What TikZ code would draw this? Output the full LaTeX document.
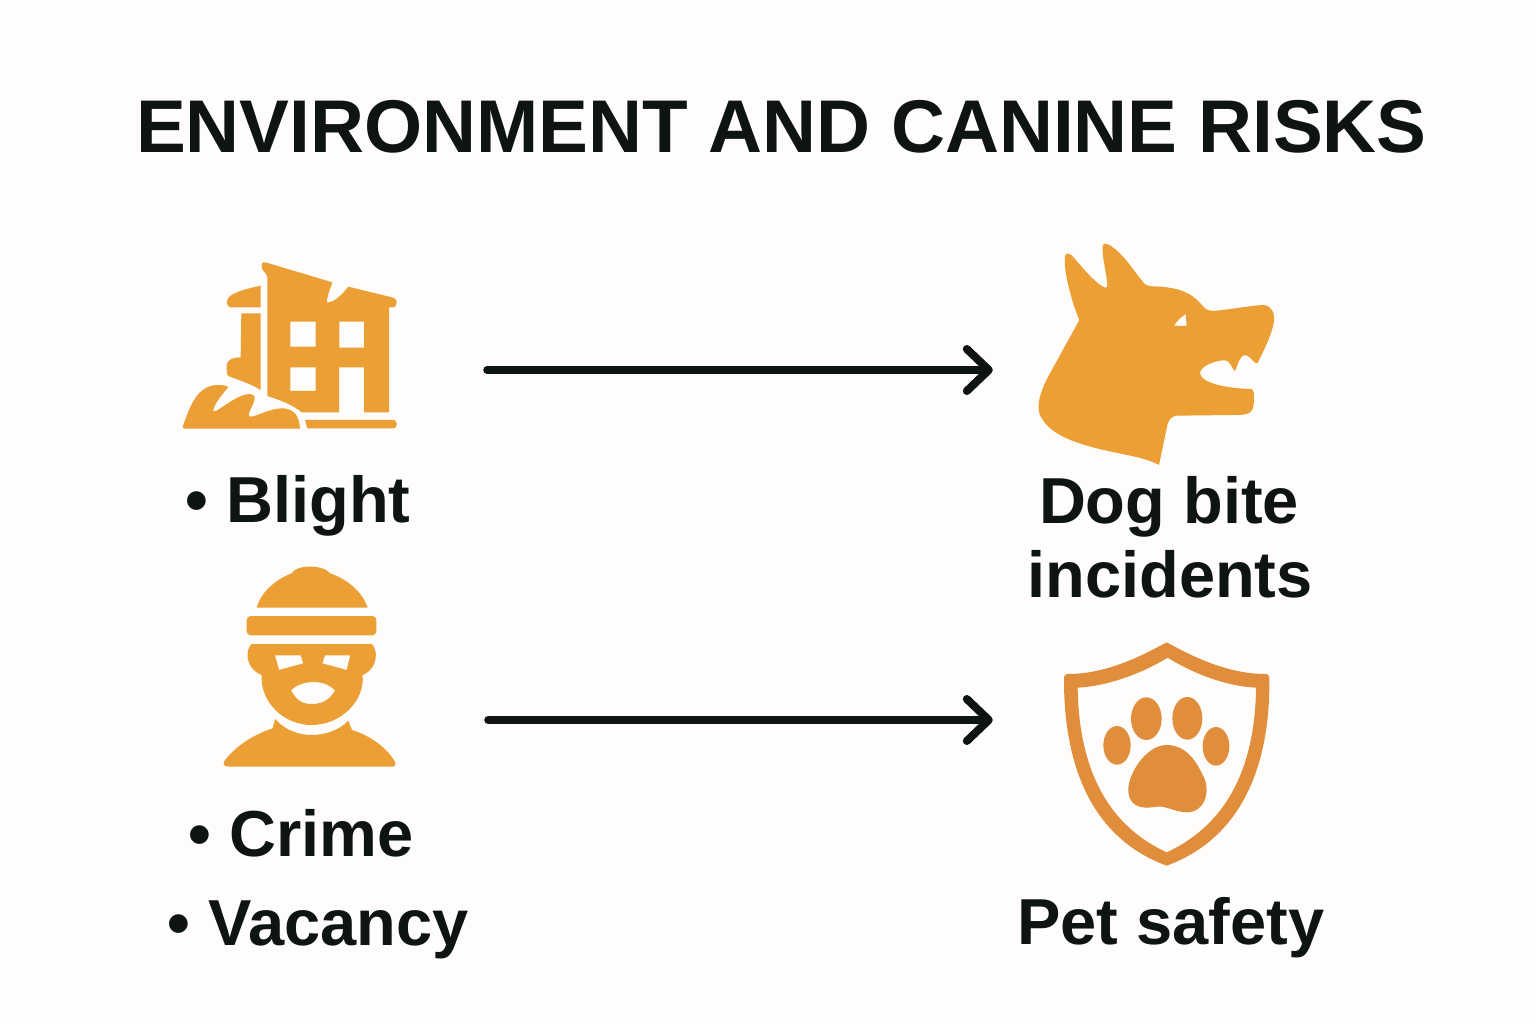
\documentclass[tikz,border=0pt]{standalone}
\usepackage{fontspec}
\usetikzlibrary{arrows.meta}
\setmainfont{Liberation Sans}
\definecolor{paper}{RGB}{254,253,251}
\definecolor{inkblack}{RGB}{14,20,20}
\definecolor{iconorange}{RGB}{235,159,53}
\definecolor{shieldorange}{RGB}{225,142,60}
\tikzset{
  label/.style={font=\bfseries\fontsize{65}{74}\selectfont, text=inkblack, inner sep=0pt, anchor=base},
  iconbox/.style={minimum width=#1, minimum height=100pt, inner sep=0pt},
  flow/.style={line width=8pt, line cap=round, draw=inkblack, -{Straight Barb[length=22pt,width=42pt,round]}},
  icon/.style={fill=iconorange, even odd rule},
  zoomed/.style={shift={#1}, scale=0.33333}
}

\begin{document}
\begin{tikzpicture}[x=1pt,y=-1pt]
\fill[paper] (0,0) rectangle (1536,1024);
\node[label, font=\bfseries\fontsize{74.7}{74.7}\selectfont] (title) at (781.5,153) {ENVIRONMENT AND CANINE RISKS};

% labels
\foreach \name/\x/\y/\word in {blight/298/522/{• Blight}, crime/301/856/{• Crime}, vacancy/318/945/{• Vacancy}, petsafety/1171/944/{Pet safety}, dogbite/1169/523/{Dog bite}, incidents/1170/597/{incidents}} {
    \node[label] (\name) at (\x,\y) {\word};
}

% building
\begin{scope}[zoomed={(170,250)}]
\fill[icon] (275,45) .. controls (277,36) and (282,35) .. (290,38) -- (487,97) .. controls (480,120) and (470,140) .. (471,157) .. controls (490,160) and (520,130) .. (535,110) -- (670,143) .. controls (682,147) and (684,165) .. (672,172) -- (657,172) -- (657,487) -- (582,487) -- (582,352) -- (507,352) -- (507,487) -- (395,487) .. controls (370,465) and (330,450) .. (292,438) -- (292,80) .. controls (288,65) and (272,62) .. (275,45) -- cycle
  (361,215) rectangle (437,290) (508,215) rectangle (582,293) (361,352) rectangle (437,423);
\fill[icon] (272,107) .. controls (235,115) and (195,125) .. (178,140) .. controls (168,150) and (168,168) .. (180,172) -- (272,172) -- cycle;
\fill[icon] (214,190) -- (272,190) -- (272,420) .. controls (240,400) and (205,390) .. (175,378) .. controls (170,375) and (170,370) .. (170,345) .. controls (172,328) and (190,322) .. (212,322) -- cycle;
\fill[icon] (38,530) .. controls (60,470) and (80,405) .. (145,405) .. controls (160,405) and (170,407) .. (175,411) .. controls (155,435) and (130,465) .. (130,483) .. controls (135,495) and (205,425) .. (245,433) .. controls (270,440) and (235,480) .. (236,497) .. controls (245,510) and (290,475) .. (340,475) .. controls (375,478) and (388,500) .. (390,536) -- (42,536) -- cycle;
\fill[icon] (405,510) -- (672,510) .. controls (683,512) and (683,533) .. (672,535) -- (412,535) -- cycle;
\end{scope}

% robber
\begin{scope}[zoomed={(210,555)}]
\fill[icon] (140,158) .. controls (155,105) and (205,70) .. (245,55) .. controls (258,28) and (342,28) .. (360,55) .. controls (405,70) and (455,105) .. (473,158) -- cycle;
\fill[icon, rounded corners=4pt] (110,183) rectangle (499,241);
\fill[icon] (125,267) -- (485,267) .. controls (505,285) and (505,340) .. (458,360) .. controls (465,440) and (390,510) .. (305,510) .. controls (220,510) and (150,440) .. (155,360) .. controls (105,340) and (105,285) .. (125,267) -- cycle
  (195,301) -- (272,301) -- (280,325) -- (207,345) -- cycle
  (337,325) -- (345,301) -- (421,301) -- (410,345) -- cycle
  (243,407) .. controls (270,375) and (345,370) .. (375,407) .. controls (355,440) and (330,447) .. (305,447) .. controls (275,447) and (260,435) .. (243,407) -- cycle;
\fill[icon] (195,492) .. controls (225,525) and (265,540) .. (305,540) .. controls (345,540) and (390,525) .. (415,497) -- (426,525) .. controls (490,545) and (535,585) .. (556,622) .. controls (557,630) and (555,635) .. (545,635) -- (55,635) .. controls (45,635) and (38,628) .. (42,620) .. controls (70,580) and (125,540) .. (188,520) -- cycle;
\end{scope}

% dog head
\begin{scope}[zoomed={(1030,235)}]
\fill[icon] (148,255) .. controls (125,200) and (100,110) .. (105,65) .. controls (110,45) and (125,60) .. (135,72) .. controls (175,120) and (205,150) .. (225,158) .. controls (235,160) and (232,145) .. (230,130) .. controls (225,100) and (215,50) .. (218,32) .. controls (222,18) and (240,30) .. (255,42) .. controls (290,70) and (320,120) .. (345,148) .. controls (355,157) and (380,152) .. (410,157) .. controls (470,165) and (495,185) .. (520,215) .. controls (530,228) and (545,228) .. (560,227) .. controls (610,222) and (660,212) .. (700,210) .. controls (725,212) and (735,235) .. (732,260) .. controls (725,300) and (700,350) .. (682,385) .. controls (675,390) and (660,360) .. (645,360) .. controls (630,360) and (625,385) .. (615,408) .. controls (605,405) and (605,375) .. (580,376) .. controls (550,378) and (510,395) .. (510,415) .. controls (515,445) and (590,460) .. (665,462) .. controls (675,465) and (672,500) .. (670,515) .. controls (665,540) and (640,540) .. (610,540) -- (440,542) .. controls (420,545) and (415,555) .. (410,580) -- (387,690) .. controls (340,665) and (280,660) .. (200,640) .. controls (130,622) and (50,595) .. (28,535) .. controls (20,500) and (35,460) .. (60,415) -- cycle
  (467,237) -- (470,273) -- (432,272) .. controls (440,258) and (455,245) .. (467,237) -- cycle;
\end{scope}

% shield with paw
\begin{scope}[zoomed={(1050,635)}]
\fill[icon, fill=shieldorange] (350,22) .. controls (420,60) and (530,118) .. (650,117) .. controls (657,118) and (658,125) .. (658,135) .. controls (660,350) and (600,600) .. (350,692) .. controls (100,600) and (42,350) .. (42,135) .. controls (42,125) and (43,118) .. (50,117) .. controls (170,118) and (280,60) .. (350,22) -- cycle
  (353,68) .. controls (420,110) and (520,153) .. (618,158) .. controls (616,350) and (560,555) .. (350,652) .. controls (140,555) and (86,350) .. (83,158) .. controls (180,153) and (285,110) .. (353,68) -- cycle;
\foreach \px/\py/\rx/\ry in {289/251/46/64, 412/250/45/64, 201/331/41/58, 498/334/40/58} {
    \fill[shieldorange] (\px,\py) ellipse [x radius=\rx, y radius=\ry];
}
\fill[shieldorange] (350,330) .. controls (415,330) and (445,390) .. (465,435) .. controls (480,480) and (460,532) .. (410,532) .. controls (370,530) and (350,512) .. (320,515) .. controls (290,520) and (240,525) .. (235,470) .. controls (230,425) and (285,330) .. (350,330) -- cycle;
\end{scope}

% connectors
\node[iconbox=338pt] (building) at (318,370) {};
\node[iconbox=338pt] (robber) at (319,720) {};
\node[iconbox=332pt] (doghead) at (1159,370) {};
\node[iconbox=332pt] (shield) at (1159,720) {};
\draw[flow] (building) -- (doghead);
\draw[flow] (robber) -- (shield);
\end{tikzpicture}
\end{document}
